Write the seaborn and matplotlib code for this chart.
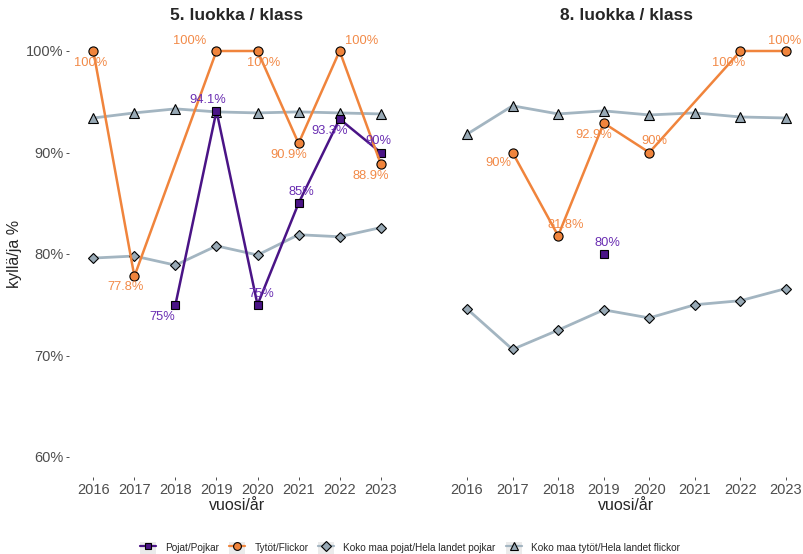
import numpy as np
import pandas as pd
import seaborn as sns
import matplotlib
matplotlib.use("Agg")
import matplotlib.pyplot as plt
from matplotlib.lines import Line2D
from matplotlib.patches import Rectangle
from matplotlib.legend_handler import HandlerLine2D

nan = np.nan
years = [2016, 2017, 2018, 2019, 2020, 2021, 2022, 2023]

# 5th grade
g5_boys = [nan, nan, 75.0, 94.1, 75.0, 85.0, 93.3, 90.0]
g5_girls = [100.0, 77.8, nan, 100.0, 100.0, 90.9, 100.0, 88.9]
g5_nat_boys = [79.6, 79.8, 78.9, 80.8, 79.9, 81.9, 81.7, 82.6]
g5_nat_girls = [93.4, 93.9, 94.3, 94.0, 93.9, 94.0, 93.9, 93.8]

# 8th grade
g8_boys = [nan, nan, nan, 80.0, nan, nan, nan, nan]
g8_girls = [nan, 90.0, 81.8, 92.9, 90.0, nan, 100.0, 100.0]
g8_nat_boys = [74.6, 70.6, 72.5, 74.5, 73.7, 75.0, 75.4, 76.6]
g8_nat_girls = [91.8, 94.6, 93.8, 94.1, 93.7, 93.9, 93.5, 93.4]

series_names = ["Pojat/Pojkar", "Tytöt/Flickor",
                "Koko maa pojat/Hela landet pojkar",
                "Koko maa tytöt/Hela landet flickor"]
panel_titles = ["5. luokka / klass", "8. luokka / klass"]
y_ticks = [60, 70, 80, 90, 100]

# label offsets (pixels, +y downward) for each labelled point
g5_boys_off = {2018: (-13, 12), 2019: (-9, -11), 2020: (4, -11), 2021: (3, -11),
               2022: (-10, 12), 2023: (-2, -11)}
g5_girls_off = {2016: (-3, 12), 2017: (-9, 11), 2019: (-27, -10), 2020: (6, 12),
                2021: (-10, 12), 2022: (22, -10), 2023: (-10, 12)}
g8_boys_off = {2019: (4, -11)}
g8_girls_off = {2017: (-14, 11), 2018: (8, -11), 2019: (-10, 12), 2020: (5, -11),
                2022: (-12, 12), 2023: (-1, -10)}

PURPLE = "#4A1486"
PURPLE_TXT = "#6A2EB2"
ORANGE = "#F0843C"
ORANGE_TXT = "#F28A48"
GREY_LINE = "#A3B5C1"
GREY_FILL = "#98A9B5"

sns.set_theme(style="white")
plt.rcParams["font.family"] = ["Liberation Sans", "DejaVu Sans"]

W, H = 804, 554
fig = plt.figure(figsize=(W / 100, H / 100), dpi=100)
top, bottom = 30.7, 477.3
ax1 = fig.add_axes([68.7 / W, 1 - bottom / H, (405.3 - 68.7) / W, (bottom - top) / H])
ax2 = fig.add_axes([439.6 / W, 1 - bottom / H, (813.4 - 439.6) / W, (bottom - top) / H])


def frame(vals):
    df = pd.DataFrame({"year": years, "value": vals})
    return df.dropna()


styles = {
    "nat_boys": dict(color=GREY_LINE, marker="D", markersize=5.6, markerfacecolor=GREY_FILL,
                     markeredgecolor="black", markeredgewidth=0.8, linewidth=2.0),
    "nat_girls": dict(color=GREY_LINE, marker="^", markersize=7.6, markerfacecolor=GREY_FILL,
                      markeredgecolor="black", markeredgewidth=0.8, linewidth=2.0),
    "boys": dict(color=PURPLE, marker="s", markersize=5.8, markerfacecolor=PURPLE,
                 markeredgecolor="black", markeredgewidth=0.8, linewidth=1.8),
    "girls": dict(color=ORANGE, marker="o", markersize=6.6, markerfacecolor=ORANGE,
                  markeredgecolor="black", markeredgewidth=0.8, linewidth=1.8),
}


def draw_panel(ax, boys, girls, nat_boys, nat_girls, boys_off, girls_off, show_y):
    sns.lineplot(data=frame(nat_boys), x="year", y="value", ax=ax, legend=False, **styles["nat_boys"])
    sns.lineplot(data=frame(nat_girls), x="year", y="value", ax=ax, legend=False, **styles["nat_girls"])
    sns.lineplot(data=frame(boys), x="year", y="value", ax=ax, legend=False, **styles["boys"])
    sns.lineplot(data=frame(girls), x="year", y="value", ax=ax, legend=False, **styles["girls"])

    for vals, offs, col in ((boys, boys_off, PURPLE_TXT), (girls, girls_off, ORANGE_TXT)):
        for yr, v in zip(years, vals):
            if np.isnan(v):
                continue
            dx, dy = offs.get(yr, (0, -11))
            ax.annotate(f"{v:g}%", (yr, v), xytext=(dx, -dy), textcoords="offset pixels",
                        ha="center", va="center", fontsize=9.3, color=col)

    ax.set_xlim(years[0] - 0.6, years[-1] + 0.6)
    ax.set_ylim(58, 102)
    ax.set_xticks(years)
    ax.set_xticklabels([str(y) for y in years])
    ax.set_xlabel("")
    ax.set_ylabel("")
    for s in ax.spines.values():
        s.set_visible(False)
    ax.tick_params(axis="x", bottom=True, length=2.5, width=0.6, color="#333333",
                   labelsize=10.5, labelcolor="#4D4D4D", pad=1.5)
    if show_y:
        ax.set_yticks(y_ticks)
        ax.set_yticklabels([f"{t}%" for t in y_ticks])
        ax.tick_params(axis="y", left=True, length=2.5, width=0.6, color="#333333",
                       labelsize=10.5, labelcolor="#4D4D4D", pad=1.5)
    else:
        ax.set_yticks([])
    ax.grid(False)
    ax.set_facecolor("none")


draw_panel(ax1, g5_boys, g5_girls, g5_nat_boys, g5_nat_girls, g5_boys_off, g5_girls_off, True)
draw_panel(ax2, g8_boys, g8_girls, g8_nat_boys, g8_nat_girls, g8_boys_off, g8_girls_off, False)

# panel titles and axis titles
for cx, t in ((237, panel_titles[0]), (626.5, panel_titles[1])):
    fig.text(cx / W, 1 - 15 / H, t, ha="center", va="center", fontsize=12.5, fontweight="bold")
    fig.text(cx / W, 1 - 506 / H, "vuosi/år", ha="center", va="center", fontsize=11.5)
fig.text(15 / W, 1 - 254 / H, "kyllä/ja %", ha="center", va="center", rotation=90, fontsize=11.5)


class BoxedHandler(HandlerLine2D):
    def create_artists(self, legend, orig_handle, xdescent, ydescent, width, height,
                       fontsize, trans):
        arts = super().create_artists(legend, orig_handle, xdescent, ydescent, width, height,
                                      fontsize, trans)
        bg = Rectangle((-xdescent, -ydescent), width, height, facecolor="#EBEBEB",
                       edgecolor="none", transform=trans)
        return [bg] + list(arts)


handles = []
for key in ("boys", "girls", "nat_boys", "nat_girls"):
    st = dict(styles[key])
    st["markersize"] = st["markersize"] * 0.85
    st["linewidth"] = 1.6
    handles.append(Line2D([0], [0], **st))

fig.legend(handles, series_names, loc="center", bbox_to_anchor=(410 / W, 1 - 548 / H),
           ncol=4, frameon=False, fontsize=7.2, handlelength=1.6, handleheight=1.6,
           handletextpad=0.9, columnspacing=1.0, borderpad=0,
           handler_map={Line2D: BoxedHandler()})

fig.savefig("out.png", dpi=100)
